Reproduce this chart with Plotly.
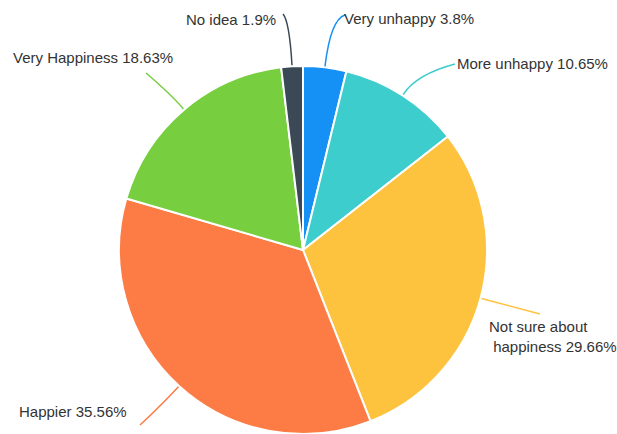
import math
import plotly.graph_objects as go

# ---- data ----
labels = ["Very unhappy", "More unhappy", "Not sure about happiness", "Happier", "Very Happiness", "No idea"]
values = [3.8, 10.65, 29.66, 35.56, 18.63, 1.9]
label_texts = ["Very unhappy 3.8%", "More unhappy 10.65%", "Not sure about<br> happiness 29.66%",
               "Happier 35.56%", "Very Happiness 18.63%", "No idea 1.9%"]

# ---- style ----
colors = ["#1590f5", "#3ccdcc", "#fdc33f", "#fd7c46", "#77cf40", "#3a4955"]
W, H = 617, 434
CX, CY, R = 303, 250, 184
# label anchor (pixel) and alignment, leader end point, control extension
label_pos = [(342, 18, "left"), (455, 63, "left"), (487, 336, "left"),
             (17, 411, "left"), (11, 57, "left"), (278, 19, "right")]
line_end = [(345, 15), (455, 64), (540, 314), (140, 425), (146, 73), (283, 14)]
ctrl_ext = [48, 25, 20, 25, 20, 45]

fig = go.Figure()
fig.add_trace(go.Pie(
    labels=labels, values=values, sort=False, direction="clockwise", rotation=0,
    marker=dict(colors=colors, line=dict(color="white", width=2)),
    textinfo="none", hoverinfo="label+percent", showlegend=False,
    domain=dict(x=[(CX - R) / W, (CX + R) / W], y=[(H - CY - R) / H, (H - CY + R) / H]),
))

total = sum(values)
cum = 0.0
shapes, annotations = [], []
for i, v in enumerate(values):
    mid = (cum + v / 2) / total * 2 * math.pi
    cum += v
    sx, sy = CX + (R + 1) * math.sin(mid), CY - (R + 1) * math.cos(mid)
    qx, qy = CX + (R + ctrl_ext[i]) * math.sin(mid), CY - (R + ctrl_ext[i]) * math.cos(mid)
    ex, ey = line_end[i]
    shapes.append(dict(type="path", xref="x", yref="y",
                       path=f"M {sx:.1f},{sy:.1f} Q {qx:.1f},{qy:.1f} {ex},{ey}",
                       line=dict(color=colors[i], width=1.5), layer="above"))
    lx, ly, al = label_pos[i]
    annotations.append(dict(x=lx, y=ly, xref="x", yref="y", text=label_texts[i],
                            showarrow=False, xanchor=al, yanchor="middle", align="left",
                            font=dict(family="Arial, Liberation Sans", size=15, color="#333333")))

fig.update_layout(
    width=W, height=H, margin=dict(l=0, r=0, t=0, b=0),
    paper_bgcolor="white", plot_bgcolor="rgba(0,0,0,0)",
    xaxis=dict(range=[0, W], visible=False, fixedrange=True),
    yaxis=dict(range=[H, 0], visible=False, fixedrange=True),
    shapes=shapes, annotations=annotations,
)
fig.write_html("out.html")
